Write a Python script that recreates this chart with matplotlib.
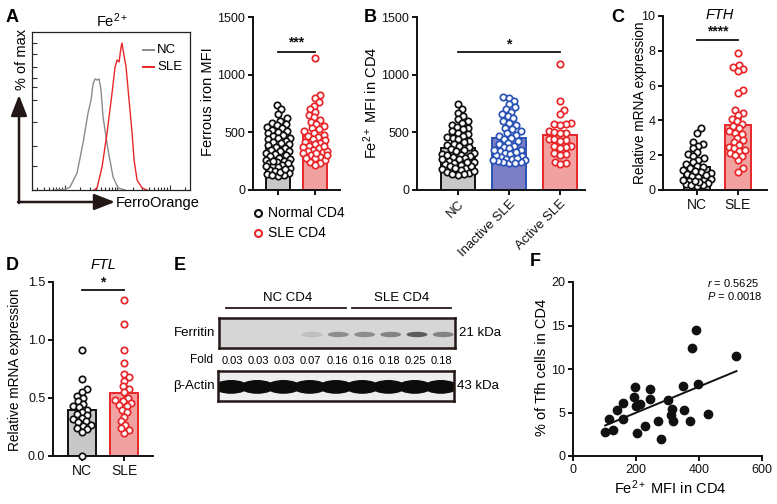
import numpy as np
import matplotlib
matplotlib.use("Agg")
import matplotlib.pyplot as plt
from matplotlib.lines import Line2D
from matplotlib.patches import Ellipse

plt.rcParams["font.family"] = ["Liberation Sans", "DejaVu Sans"]
plt.rcParams["mathtext.fontset"] = "custom"
plt.rcParams["mathtext.rm"] = "Liberation Sans"
plt.rcParams["mathtext.it"] = "Liberation Sans:italic"
plt.rcParams["mathtext.bf"] = "Liberation Sans:bold"

# ── Data ────────────────────────────────────────────────────────────────────

# A: FerroOrange histograms (fluorescence, % of max)
hist_nc_x = [66, 102, 127, 173, 225, 280, 320, 349, 381, 416, 454, 495, 541, 674, 840, 1045, 1420]
hist_nc_y = [0, 0.3, 1.9, 10.8, 29.7, 48.7, 57.0, 67.1, 70.3, 69.6, 70.3, 63.3, 46.2, 25.3, 8.2, 1.3, 0]
hist_sle_x = [365, 416, 518, 645, 803, 916, 1000, 1092, 1191, 1245, 1301, 1483, 1693, 1931, 2109, 2405, 2994, 3727]
hist_sle_y = [0, 1.3, 14.6, 36.1, 61.4, 77.8, 82.3, 81.0, 90.5, 93.0, 88.6, 77.8, 57.0, 36.1, 19.0, 6.3, 1.3, 0]

# A: ferrous iron MFI
a_normal = [737, 700, 655, 620, 600, 585, 570, 560, 548, 535, 520, 512, 500, 490, 478,
            470, 455, 448, 440, 425, 418, 405, 395, 388, 375, 362, 350, 340, 335, 322,
            310, 300, 292, 280, 270, 262, 255, 240, 232, 220, 212, 200, 188, 175, 165,
            150, 140, 128, 118, 130, 160, 185, 205, 230, 250]
a_sle = [1148, 824, 800, 760, 730, 700, 680, 650, 630, 610, 590, 570, 555, 540, 525,
         510, 495, 480, 470, 460, 445, 430, 420, 410, 398, 385, 372, 360, 350, 340,
         330, 318, 305, 290, 275, 260, 245, 230, 217, 320, 340, 380, 300, 280]

# B: Fe2+ MFI in CD4 by group
b_labels = ["NC", "Inactive SLE", "Active SLE"]
b_nc = [746, 705, 670, 640, 615, 595, 580, 565, 550, 538, 525, 510, 498, 485, 472,
        460, 450, 438, 425, 415, 402, 392, 380, 370, 358, 345, 338, 325, 315, 305,
        295, 285, 275, 265, 255, 245, 235, 225, 215, 205, 195, 182, 170, 158, 145,
        135, 130, 140, 165, 190, 210, 240, 270, 300]
b_inactive = [804, 798, 770, 745, 720, 700, 680, 655, 640, 620, 600, 585, 560, 540, 525,
              510, 495, 480, 470, 455, 440, 425, 410, 400, 385, 372, 360, 348, 335, 320,
              310, 298, 285, 270, 258, 245, 234, 240, 250, 265, 280, 300, 330, 350, 238, 260]
b_active = [1090, 772, 694, 659, 578, 572, 568, 565, 512, 505, 498, 490, 445, 440, 432,
            425, 385, 378, 370, 365, 318, 312, 305, 245, 235, 222]

# C: FTH relative mRNA
c_nc = [3.55, 3.3, 2.75, 2.65, 2.55, 2.4, 2.2, 2.05, 1.95, 1.85, 1.75, 1.6, 1.5, 1.4,
        1.35, 1.25, 1.15, 1.05, 0.95, 0.9, 0.8, 0.75, 0.65, 0.55, 0.5, 0.42, 0.35, 0.28,
        0.22, 0.45, 0.6, 0.85, 1.1, 0.3, 0.5]
c_sle = [7.89, 7.18, 7.05, 6.95, 6.85, 5.75, 5.55, 4.6, 4.45, 4.3, 4.1, 3.95, 3.8, 3.7,
         3.55, 3.4, 3.3, 3.2, 3.0, 2.85, 2.75, 2.6, 2.5, 2.4, 2.25, 2.1, 1.95, 1.7, 1.25,
         1.05, 2.3, 2.0]

# D: FTL relative mRNA
d_nc = [0.91, 0.66, 0.58, 0.55, 0.52, 0.5, 0.47, 0.45, 0.43, 0.42, 0.4, 0.38, 0.36,
        0.35, 0.33, 0.32, 0.3, 0.29, 0.27, 0.26, 0.24, 0.23, 0.21, 0.0]
d_sle = [1.345, 1.14, 0.91, 0.8, 0.71, 0.68, 0.65, 0.6, 0.58, 0.55, 0.5, 0.48, 0.47,
         0.46, 0.44, 0.43, 0.4, 0.38, 0.34, 0.3, 0.27, 0.22, 0.2, 0.24]

# E: western blot
fold_values = [0.03, 0.03, 0.03, 0.07, 0.16, 0.16, 0.18, 0.25, 0.18]

# F: correlation
f_mfi = [102, 127, 113, 141, 158, 158, 197, 195, 200, 213, 203, 227, 243, 243,
         271, 280, 303, 315, 311, 318, 350, 352, 371, 379, 389, 398, 427, 519]
f_tfh = [2.76, 2.95, 4.2, 5.25, 6.1, 4.2, 7.9, 6.8, 5.8, 6.0, 2.65, 3.5, 7.75, 6.6,
         4.0, 2.0, 6.4, 5.45, 4.7, 4.0, 8.1, 5.25, 4.0, 12.4, 14.5, 8.3, 4.8, 11.5]

# ── Style ───────────────────────────────────────────────────────────────────

INK = "#111111"
RED = "#e8262a"
BLUE = "#2b53b5"
GRAY_FILL = "#c8c8c8"
RED_FILL = "#f2a1a1"
BLUE_FILL = "#7b7ec4"

W, H = 777, 504
fig = plt.figure(figsize=(W / 100, H / 100), dpi=100)


def px_axes(left, top, right, bottom):
    return fig.add_axes([left / W, 1 - bottom / H, (right - left) / W, (bottom - top) / H])


def ftext(x, y, s, **kw):
    return fig.text(x / W, 1 - y / H, s, **kw)


def fline(xs, ys, **kw):
    fig.add_artist(Line2D([x / W for x in xs], [1 - y / H for y in ys],
                          transform=fig.transFigure, **kw))


def swarm(ax, xc, vals, d, half):
    """Simple beeswarm in pixel space; returns x data positions."""
    vals = np.asarray(vals, float)
    pts = ax.transData.transform(np.column_stack([np.full(len(vals), xc), vals]))
    cx, ys = pts[0, 0], pts[:, 1]
    offs = np.zeros(len(vals))
    placed = []
    for i in np.argsort(vals):
        y = ys[i]
        near = [(px, py) for px, py in placed if abs(py - y) < d]
        cands = [0.0]
        for px, py in near:
            dx = np.sqrt(d * d - (py - y) ** 2)
            cands += [px + dx, px - dx]
        cands.sort(key=abs)
        ok = [c for c in cands if abs(c) <= half
              and all((c - px) ** 2 + (y - py) ** 2 >= d * d - 1e-6 for px, py in near)]
        if ok:
            best = ok[0]
        else:
            grid = np.linspace(-half, half, 25)
            score = [min((g - px) ** 2 + (y - py) ** 2 for px, py in near) for g in grid]
            best = grid[int(np.argmax(score))]
        placed.append((best, y))
        offs[i] = best
    return ax.transData.inverted().transform(np.column_stack([cx + offs, ys]))[:, 0]


def style_axes(ax):
    for s in ("top", "right"):
        ax.spines[s].set_visible(False)
    for s in ("left", "bottom"):
        ax.spines[s].set_linewidth(1.4)
        ax.spines[s].set_color(INK)
    ax.tick_params(length=3.5, width=1.4, labelsize=9, pad=2, colors=INK)


def dot_bars(ax, groups, edges, fills, d=5.8, half=12, ms=4.6):
    for i, (vals, ec, fc) in enumerate(zip(groups, edges, fills)):
        m = np.mean(vals)
        sem = np.std(vals, ddof=1) / np.sqrt(len(vals))
        ax.bar(i, m, width=0.65, color=fc, edgecolor=ec, linewidth=1.4, zorder=1)
        ax.errorbar(i, m, yerr=sem, color=ec, capsize=3, lw=1.2, capthick=1.2, zorder=2)
        xs = swarm(ax, i, vals, d, half)
        ax.plot(xs, vals, "o", ms=ms, mfc="white", mec=ec, mew=1.25, zorder=3,
                clip_on=False, ls="none")
    ax.set_xticks(range(len(groups)))


def sig(ax, x0, x1, y, ystar, label):
    ax.plot([x0, x1], [y, y], color=INK, lw=1.3, clip_on=False)
    ax.text((x0 + x1) / 2, ystar, label, ha="center", va="center", fontsize=10,
            fontweight="bold", color=INK)


# ── Panel A: histogram ──────────────────────────────────────────────────────
ax = px_axes(32, 32, 190, 190)
ax.plot(hist_nc_x, hist_nc_y, color="#8a8a8a", lw=1.0)
ax.plot(hist_sle_x, hist_sle_y, color=RED, lw=1.0)
ax.set_xscale("log")
ax.set_xlim(24, 24500)
ax.set_ylim(0, 100)
ax.set_yticks([0, 15, 28, 43, 57, 65, 71, 78, 86, 93])
ax.tick_params(which="both", direction="in", labelbottom=False, labelleft=False,
               width=0.8, colors="#333333")
ax.tick_params(which="major", length=3.5)
ax.tick_params(which="minor", length=2)
for s in ax.spines.values():
    s.set_linewidth(0.9)
    s.set_color("#222222")
ftext(112, 21, "Fe$^{2+}$", ha="center", va="center", fontsize=10.5)
fline([143, 154], [50, 50], color="#8a8a8a", lw=1.4)
fline([143, 154], [67, 67], color=RED, lw=1.4)
ftext(157, 50, "NC", ha="left", va="center", fontsize=9.5)
ftext(157, 67, "SLE", ha="left", va="center", fontsize=9.5)
arrow = dict(arrowstyle="-|>,head_length=0.9,head_width=0.35", color="#231815",
             lw=1.8, mutation_scale=14, shrinkA=0, shrinkB=0)
ax.annotate("", xy=(19, H - 95), xytext=(19, H - 203), xycoords="figure pixels",
            textcoords="figure pixels", arrowprops=arrow, annotation_clip=False)
ax.annotate("", xy=(115, H - 202), xytext=(18, H - 202), xycoords="figure pixels",
            textcoords="figure pixels", arrowprops=arrow, annotation_clip=False)
ftext(22, 59, "% of max", rotation=90, ha="center", va="center", fontsize=10.5)
ftext(116, 203, "FerroOrange", ha="left", va="center", fontsize=10.5)
ftext(12, 17, "A", ha="center", va="center", fontsize=13, fontweight="bold")

# ── Panel A: bars ───────────────────────────────────────────────────────────
ax = px_axes(253, 17, 340, 190)
ax.set_xlim(-0.676, 1.68)
ax.set_ylim(0, 1500)
style_axes(ax)
ax.set_yticks([0, 500, 1000, 1500])
dot_bars(ax, [a_normal, a_sle], [INK, RED], [GRAY_FILL, RED_FILL], half=12)
ax.set_xticklabels([])
sig(ax, 0, 1, 1197, 1275, "***")
ftext(208, 102, "Ferrous iron MFI", rotation=90, ha="center", va="center", fontsize=10.5)
for yy, lab, col in [(213, "Normal CD4", INK), (233, "SLE CD4", RED)]:
    fig.add_artist(Line2D([258 / W], [1 - yy / H], transform=fig.transFigure, marker="o",
                          ms=5, mfc="white", mec=col, mew=1.5, ls="none"))
    ftext(268, yy, lab, ha="left", va="center", fontsize=10)

# ── Panel B ─────────────────────────────────────────────────────────────────
ax = px_axes(417, 17, 585, 190)
ax.set_xlim(-0.804, 2.49)
ax.set_ylim(0, 1500)
style_axes(ax)
ax.set_yticks([0, 500, 1000, 1500])
dot_bars(ax, [b_nc, b_inactive, b_active], [INK, BLUE, RED],
         [GRAY_FILL, BLUE_FILL, RED_FILL], half=16)
ax.set_xticklabels(b_labels, rotation=45, ha="right", rotation_mode="anchor", fontsize=9.5)
sig(ax, 0, 2, 1197, 1262, "*")
ftext(371, 103, "Fe$^{2+}$ MFI in CD4", rotation=90, ha="center", va="center", fontsize=10.5)
ftext(370, 18, "B", ha="center", va="center", fontsize=13, fontweight="bold")

# ── Panel C ─────────────────────────────────────────────────────────────────
ax = px_axes(663, 16, 767, 190)
ax.set_xlim(-0.83, 1.71)
ax.set_ylim(0, 10)
style_axes(ax)
ax.set_yticks([0, 2, 4, 6, 8, 10])
dot_bars(ax, [c_nc, c_sle], [INK, RED], [GRAY_FILL, RED_FILL], half=14)
ax.set_xticklabels(["NC", "SLE"], fontsize=10)
sig(ax, 0, 1, 8.62, 9.1, "****")
ftext(720, 15, "FTH", ha="center", va="center", fontsize=10.5, style="italic")
ftext(640, 103, "Relative mRNA expression", rotation=90, ha="center", va="center", fontsize=9.8)
ftext(618, 18, "C", ha="center", va="center", fontsize=13, fontweight="bold")

# ── Panel D ─────────────────────────────────────────────────────────────────
ax = px_axes(53, 282, 153, 456)
ax.set_xlim(-0.69, 1.69)
ax.set_ylim(0, 1.5)
style_axes(ax)
ax.set_yticks([0, 0.5, 1.0, 1.5])
ax.set_yticklabels(["0.0", "0.5", "1.0", "1.5"])
dot_bars(ax, [d_nc, d_sle], [INK, RED], [GRAY_FILL, RED_FILL], half=14)
ax.set_xticklabels(["NC", "SLE"], fontsize=10)
sig(ax, 0, 1, 1.431, 1.50, "*")
ftext(103, 265, "FTL", ha="center", va="center", fontsize=10.5, style="italic")
ftext(15, 370, "Relative mRNA expression", rotation=90, ha="center", va="center", fontsize=9.8)
ftext(12, 265, "D", ha="center", va="center", fontsize=13, fontweight="bold")

# ── Panel E: western blot ───────────────────────────────────────────────────
n_lanes = len(fold_values)
ax_f = px_axes(219, 318, 455, 348)
ax_a = px_axes(218, 371, 454, 401)
for a, bg in [(ax_f, "#d6d6d6"), (ax_a, "#eeeeee")]:
    a.set_xlim(0, n_lanes)
    a.set_ylim(0, 1)
    a.set_facecolor(bg)
    a.set_xticks([])
    a.set_yticks([])
    for s in a.spines.values():
        s.set_linewidth(1.8)
        s.set_color("#231815")
fmax = max(fold_values)
fmin = min(fold_values)
for i, f in enumerate(fold_values):
    alpha = 0.75 * (f - fmin) / (fmax - fmin)
    ax_f.add_patch(Ellipse((i + 0.55, 0.45), 0.8, 0.18, color="#333333", alpha=alpha, lw=0))
    ax_a.add_patch(Ellipse((i + 0.5, 0.47), 1.3, 0.46, color="#0c0c0c", lw=0))
    ax_f.text(i + 0.5, -0.42, f"{f:.2f}", ha="center", va="center", fontsize=8,
              clip_on=False)
ftext(215, 333, "Ferritin", ha="right", va="center", fontsize=9.5)
ftext(213, 360, "Fold", ha="right", va="center", fontsize=8.5)
ftext(215, 386, "β-Actin", ha="right", va="center", fontsize=9.5)
ftext(459, 333, "21 kDa", ha="left", va="center", fontsize=9.5)
ftext(457, 386, "43 kDa", ha="left", va="center", fontsize=9.5)
ftext(288, 298, "NC CD4", ha="center", va="center", fontsize=9.5)
ftext(402, 298, "SLE CD4", ha="center", va="center", fontsize=9.5)
fline([226, 346], [308, 308], color="#231815", lw=1.3)
fline([352, 451], [308, 308], color="#231815", lw=1.3)
ftext(180, 265, "E", ha="center", va="center", fontsize=13, fontweight="bold")

# ── Panel F ─────────────────────────────────────────────────────────────────
ax = px_axes(573, 282, 762, 456)
ax.set_xlim(0, 600)
ax.set_ylim(0, 20)
style_axes(ax)
ax.set_xticks([0, 200, 400, 600])
ax.set_yticks([0, 5, 10, 15, 20])
ax.plot(f_mfi, f_tfh, "o", ms=6, color=INK, ls="none", zorder=3)
slope, icpt = np.polyfit(f_mfi, f_tfh, 1)
xr = np.array([min(f_mfi), max(f_mfi)])
ax.plot(xr, slope * xr + icpt, color=INK, lw=1.4)
ftext(707, 283, "$r$ = 0.5625", ha="left", va="center", fontsize=8)
ftext(707, 296, "$P$ = 0.0018", ha="left", va="center", fontsize=8)
ftext(670, 488, "Fe$^{2+}$ MFI in CD4", ha="center", va="center", fontsize=10.5)
ftext(542, 367, "% of Tfh cells in CD4", rotation=90, ha="center", va="center", fontsize=10.5)
ftext(535, 262, "F", ha="center", va="center", fontsize=13, fontweight="bold")

fig.savefig("out.png", dpi=100)
